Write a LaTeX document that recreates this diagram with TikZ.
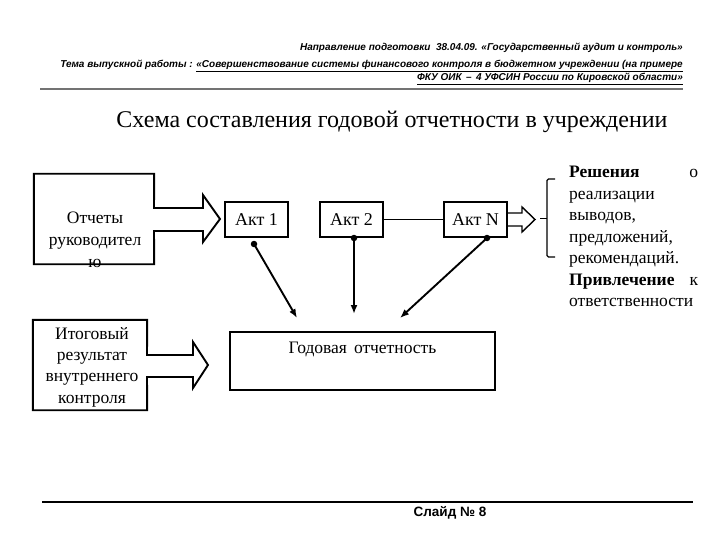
\documentclass[tikz,border=0pt]{standalone}
\usepackage{fontspec}
\setmainfont{Liberation Serif}
\newfontfamily\hdrfont{Liberation Sans}
\usetikzlibrary{arrows.meta}
\tikzset{
  outl/.style={draw, line width=1.9pt, line join=miter},
  aktbox/.style={draw, line width=1.9pt, minimum width=63pt, minimum height=35pt, inner sep=0pt, font=\fontsize{18}{20}\selectfont},
  txt/.style={align=center, inner sep=0pt, font=\fontsize{17.5}{22}\selectfont},
  hdr/.style={inner sep=0pt, anchor=east, font=\hdrfont\bfseries\itshape\fontsize{10}{11}\selectfont},
  conn/.style={line width=1.9pt, -{Latex[length=9pt,width=7pt]}},
  dot/.style={circle, fill=black, inner sep=0pt, minimum size=6.5pt}
}
\begin{document}
\begin{tikzpicture}[x=1pt,y=-1pt]
\useasboundingbox (0,0) rectangle (720,540);
% header
\node[hdr] (h1) at (683,48) {Направление подготовки \ 38.04.09. «Государственный аудит и контроль»};
\node[hdr] (h2) at (683,66) {Тема выпускной работы : \underline{«Совершенствование системы финансового контроля в бюджетном учреждении (на примере}};
\node[hdr] (h3) at (683,79) {\underline{ФКУ ОИК \,–\, 4 УФСИН России по Кировской области»}};
\draw[line width=2.2pt, black!55] (40,89) -- (683,89);
% title
\node[inner sep=0pt, font=\fontsize{24}{26}\selectfont] (title) at (392,122) {Схема составления годовой отчетности в учреждении};
% Otchety box with arrow
\node[txt, minimum width=120pt, minimum height=90pt] (otch) at (94,219) {};
\node[txt] (otcht) at (95,240) {Отчеты\\руководител\\ю};
\draw[outl] (otch.north west) -- (otch.north east) -- (154,208) -- (203,208) -- (203,195) -- (220,219) -- (203,242) -- (203,231) -- (154,231) -- (otch.south east) -- (otch.south west) -- cycle;
% Itog box with arrow
\node[txt, minimum width=114pt, minimum height=90pt] (itog) at (90,365) {};
\node[txt, font=\fontsize{17.5}{21.3}\selectfont] (itogt) at (92,367) {Итоговый\\результат\\внутреннего\\контроля};
\draw[outl] (itog.north west) -- (itog.north east) -- (147,355) -- (193,355) -- (193,342) -- (208,365) -- (193,388) -- (193,377) -- (147,377) -- (itog.south east) -- (itog.south west) -- cycle;
% Akt boxes
\node[aktbox] (a1) at (256.5,219.5) {Акт 1};
\node[aktbox] (a2) at (351.5,219.5) {Акт 2};
\node[aktbox] (an) at (475.5,219.5) {Акт N};
\draw[line width=1.9pt] (a2.east) -- (an.west);
% small arrow from Akt N
\draw[line width=1.4pt, line join=miter] (an.east |- 0,213) -- (522,213) -- (522,207) -- (535,219.5) -- (522,232) -- (522,226) -- (an.east |- 0,226);
% bracket
\coordinate (bl) at (540,218.5);
\draw[line width=1.2pt, rounded corners=1.5pt] (555,179) -- (547,179) -- (547,257) -- (555,257);
\draw[line width=1.2pt] (bl) -- (547,218.5);
% right text
\node[inner sep=0pt, anchor=north west, align=left, font=\fontsize{17.5}{21.5}\selectfont] (res) at (569,166) {%
\hbox to 129pt{\textbf{Решения}\hfill о}\\
реализации\\
выводов,\\
предложений,\\
рекомендаций.\\
\hbox to 129pt{\textbf{Привлечение}\hfill к}\\
ответственности};
% annual report box
\node[draw, line width=1.9pt, minimum width=265pt, minimum height=58pt, inner sep=0pt] (god) at (362.5,361) {};
\node[txt] (godt) at (362.5,349) {Годовая\hspace{0.4em}отчетность};
% connectors
\node[dot] (d1) at (254,244) {};
\node[dot] (d2) at (354,238) {};
\node[dot] (d3) at (487,238) {};
\coordinate (t1) at (297,318);
\coordinate (t2) at (354,314);
\coordinate (t3) at (400,318);
\draw[conn] (d1.center) -- (t1);
\draw[conn] (d2.center) -- (t2);
\draw[conn] (d3.center) -- (t3);
% footer
\draw[line width=1.3pt] (42,502) -- (693,502);
\node[inner sep=0pt, font=\hdrfont\bfseries\fontsize{13.5}{15}\selectfont] (slide) at (450,513) {Слайд № 8};
\end{tikzpicture}
\end{document}
